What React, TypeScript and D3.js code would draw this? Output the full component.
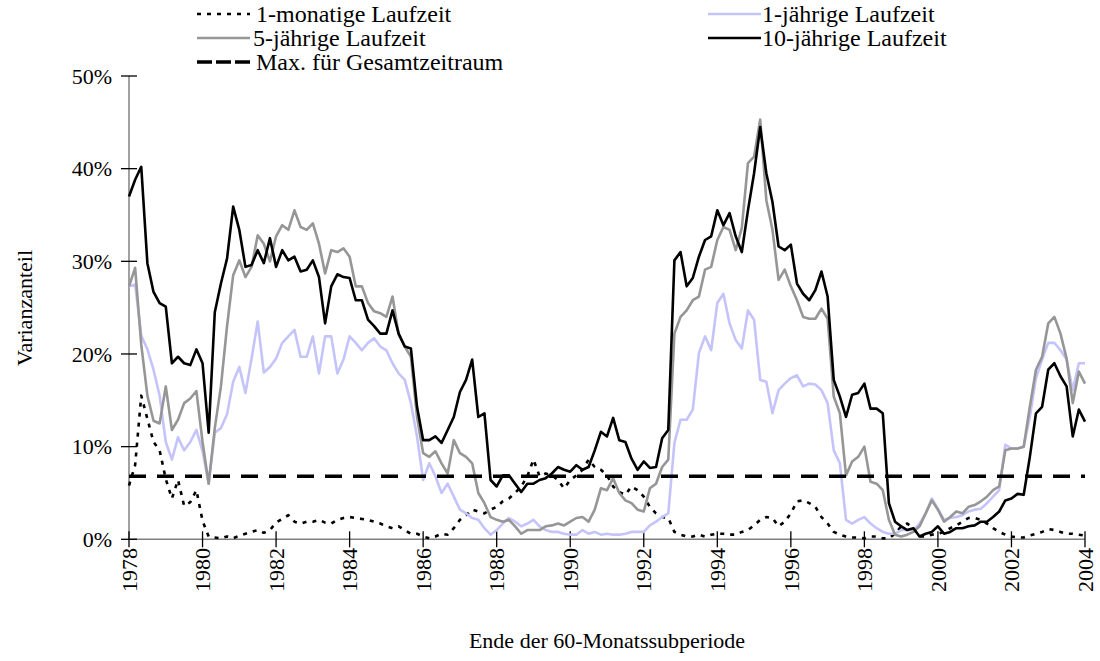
import { useEffect } from 'react'
import * as d3 from 'd3'

// Ende der 60-Monatssubperiode, Werte alle 2 Monate ab Jan 1978 (Anteil in %)
const startYear = 1978
const stepsPerYear = 6

const monat1 = [
  5.8, 8.0, 15.5, 13.0, 10.5, 9.6, 6.5, 4.4, 6.4, 3.6, 4.0, 5.3, 2.0, 0.3, 0.2, 0.1, 0.3, 0.1, 0.4, 0.6, 0.8, 1.0, 0.7, 1.0, 1.8, 2.2,
  2.6, 1.9, 1.7, 1.9, 1.9, 2.1, 1.8, 1.7, 2.1, 2.3, 2.4, 2.3, 2.2, 2.1, 1.9, 1.7, 1.4, 1.2, 1.4, 1.0, 0.6, 0.6, 0.3, 0.1, 0.3,
  0.6, 0.5, 1.2, 2.1, 2.6, 3.2, 3.0, 2.8, 3.2, 3.5, 4.1, 4.4, 5.0, 5.7, 6.8, 8.6, 6.8, 7.1, 6.9, 6.4, 5.5, 6.4, 6.9,
  7.5, 8.6, 7.8, 7.5, 6.9, 5.7, 5.1, 4.8, 5.7, 5.3, 4.6, 3.5, 2.8, 2.4, 2.3, 0.8, 0.5, 0.3, 0.3, 0.5, 0.3, 0.5, 0.6, 0.6, 0.5,
  0.5, 0.8, 1.0, 1.5, 2.1, 2.4, 2.3, 1.4, 1.9, 2.8, 4.1, 4.2, 3.9, 3.5, 2.4, 1.7, 0.8, 0.5, 0.3, 0.2, 0.2, 0.1, 0.3, 0.3,
  0.1, 0.1, 0.6, 1.4, 1.7, 1.2, 0.3, 0.3, 0.5, 0.6, 0.8, 1.2, 1.5, 1.9, 2.3, 2.3, 2.1, 1.7, 1.2, 0.8, 0.5, 0.3, 0.2, 0.2,
  0.4, 0.6, 0.8, 1.1, 1.0, 0.8, 0.6, 0.6, 0.5, 0.4
]

const jahr1 = [
  27.3, 27.5, 22.0, 20.5, 18.3, 15.5, 10.5, 8.6, 11.0, 9.6, 10.5, 11.8, 9.5, 6.0, 11.5, 12.0, 13.5, 17.0, 18.6, 15.8, 19.5, 23.5, 18.0, 18.6, 19.5, 21.2,
  21.9, 22.6, 19.7, 19.7, 21.9, 17.9, 21.9, 21.9, 17.9, 19.4, 21.9, 21.2, 20.4, 21.2, 21.7, 20.8, 20.4, 19.0, 17.9, 17.2, 14.7, 11.1, 6.4, 8.2, 6.8,
  5.0, 6.0, 4.6, 3.2, 2.8, 2.3, 2.1, 1.2, 0.5, 1.0, 1.7, 2.3, 1.9, 1.4, 1.7, 2.1, 1.4, 1.0, 0.8, 0.8, 0.6, 0.5, 0.5,
  1.0, 0.6, 0.8, 0.5, 0.6, 0.5, 0.5, 0.6, 0.8, 0.8, 0.8, 1.5, 1.9, 2.4, 2.8, 10.4, 12.9, 12.9, 14.0, 20.1, 21.9, 20.4, 25.5, 26.5, 23.3,
  21.5, 20.6, 24.7, 23.7, 17.2, 17.0, 13.6, 16.1, 16.8, 17.4, 17.7, 16.5, 16.8, 16.7, 16.1, 14.7, 9.6, 8.2, 2.1, 1.7, 2.1, 2.4, 1.7, 1.2,
  0.8, 0.6, 0.6, 1.0, 1.0, 1.0, 1.7, 2.8, 4.4, 3.3, 2.1, 2.3, 2.4, 2.6, 3.0, 3.2, 3.3, 3.9, 4.6, 5.3, 10.2, 9.8, 9.8, 10.0,
  13.2, 17.4, 19.4, 21.2, 21.2, 20.4, 19.4, 16.1, 19.0, 19.0
]

const jahr5 = [
  27.3, 29.3, 21.0, 15.5, 12.8, 12.5, 16.5, 11.8, 12.9, 14.7, 15.2, 16.0, 10.5, 6.0, 12.0, 16.5, 23.0, 28.5, 30.1, 28.3, 29.4, 32.8, 31.9, 30.0, 32.7, 33.9,
  33.4, 35.5, 33.7, 33.4, 34.1, 31.9, 28.7, 31.2, 31.0, 31.4, 30.5, 27.3, 27.3, 25.5, 24.6, 24.4, 24.0, 26.2, 22.1, 20.8, 19.7, 13.2, 9.3, 8.9, 9.5,
  8.2, 7.1, 10.7, 9.3, 8.9, 8.2, 5.0, 3.9, 2.4, 2.1, 1.9, 2.1, 1.4, 0.6, 1.0, 1.0, 1.0, 1.4, 1.5, 1.7, 1.5, 1.9, 2.3,
  2.4, 1.9, 3.2, 5.5, 5.3, 6.6, 5.0, 4.2, 3.9, 3.2, 3.0, 5.5, 6.0, 7.8, 8.6, 22.2, 24.0, 24.7, 25.8, 26.2, 29.1, 29.4, 32.3, 33.7, 33.4,
  31.2, 33.6, 40.6, 41.3, 45.3, 36.6, 33.4, 28.0, 29.1, 27.3, 25.8, 24.0, 23.8, 23.8, 24.9, 23.8, 15.4, 13.6, 6.9, 8.4, 8.9, 10.0, 6.2, 6.0,
  5.3, 2.1, 0.5, 0.3, 0.5, 0.8, 1.4, 2.8, 4.2, 3.2, 1.9, 2.4, 3.0, 2.8, 3.5, 3.7, 4.1, 4.6, 5.3, 5.7, 9.6, 9.8, 9.8, 10.0,
  14.3, 18.3, 19.7, 23.3, 24.0, 22.2, 19.5, 14.7, 18.1, 16.8
]

const jahr10 = [
  37.0, 38.8, 40.2, 29.8, 26.7, 25.5, 25.1, 19.0, 19.7, 19.0, 18.8, 20.5, 19.0, 11.5, 24.5, 27.6, 30.3, 35.9, 33.4, 29.4, 29.6, 31.2, 29.8, 32.5, 29.4, 31.2,
  30.1, 30.5, 28.9, 29.1, 30.1, 28.3, 23.3, 27.3, 28.6, 28.3, 28.2, 25.8, 25.8, 23.7, 23.0, 22.2, 22.2, 24.7, 22.2, 20.8, 20.6, 14.3, 10.7, 10.7, 11.1,
  10.4, 11.8, 13.2, 15.9, 17.2, 19.4, 13.2, 13.6, 6.4, 5.7, 6.9, 6.9, 6.0, 5.1, 6.0, 6.0, 6.4, 6.6, 7.1, 7.8, 7.5, 7.3, 8.0,
  7.5, 7.8, 9.6, 11.6, 11.1, 13.1, 10.7, 10.5, 8.7, 7.5, 8.4, 7.7, 7.8, 10.9, 11.8, 30.1, 31.0, 27.3, 28.2, 30.5, 32.3, 32.7, 35.5, 33.9, 35.2,
  32.7, 31.0, 35.5, 39.5, 44.5, 39.5, 36.4, 31.6, 31.2, 31.8, 27.6, 26.5, 25.8, 26.9, 28.9, 26.2, 17.2, 15.4, 13.2, 15.6, 15.8, 16.8, 14.1, 14.1,
  13.6, 3.9, 1.9, 1.4, 1.0, 1.2, 0.3, 0.6, 0.8, 1.4, 0.6, 0.8, 1.2, 1.2, 1.4, 1.5, 1.9, 1.9, 2.4, 3.0, 4.2, 4.4, 4.9, 4.8,
  8.9, 13.6, 14.3, 18.3, 19.0, 17.6, 16.5, 11.1, 14.0, 12.7
]

const maxGesamt = 6.8

const yearTicks = [1978, 1980, 1982, 1984, 1986, 1988, 1990, 1992, 1994, 1996, 1998, 2000, 2002, 2004]
const pctTicks = [0, 10, 20, 30, 40, 50]

const seriesNames = ['1-monatige Laufzeit', '1-jährige Laufzeit', '5-jährige Laufzeit', '10-jährige Laufzeit', 'Max. für Gesamtzeitraum']

const FONT = '"Liberation Serif", "Times New Roman", serif'

function App() {
  useEffect(() => {
    document.body.style.margin = '0'
  }, [])

  const x = d3.scaleLinear().domain([1978, 2004]).range([129, 1085])
  const y = d3.scaleLinear().domain([0, 50]).range([539.3, 76])

  const line = d3
    .line<number>()
    .x((d, i) => x(startYear + i / stepsPerYear))
    .y(d => y(d))

  const styles = [
    { data: monat1, stroke: '#000', width: 2.6, dash: '4,6' },
    { data: jahr1, stroke: '#c4c4fb', width: 2.6, dash: null },
    { data: jahr5, stroke: '#969696', width: 2.6, dash: null },
    { data: jahr10, stroke: '#000', width: 2.6, dash: null }
  ]

  const legend = [
    { name: seriesNames[0], lx: 197, tx: 256, ly: 14, stroke: '#000', width: 2.6, dash: '4,6' },
    { name: seriesNames[1], lx: 708, tx: 762, ly: 14, stroke: '#c4c4fb', width: 2.6, dash: null },
    { name: seriesNames[2], lx: 197, tx: 253, ly: 38, stroke: '#969696', width: 2.6, dash: null },
    { name: seriesNames[3], lx: 708, tx: 762, ly: 38, stroke: '#000', width: 2.6, dash: null },
    { name: seriesNames[4], lx: 197, tx: 256, ly: 62, stroke: '#000', width: 3.5, dash: '15,4' }
  ]

  return (
    <svg width={1100} height={661} style={{ display: 'block' }} fontFamily={FONT}>
      <rect x={0} y={0} width={1100} height={661} fill="#fff" />

      {/* Achsen */}
      <line x1={x(1978)} x2={x(1978)} y1={y(50)} y2={y(0)} stroke="#808080" strokeWidth={1.5} />
      <line x1={x(1978)} x2={x(2004)} y1={y(0)} y2={y(0)} stroke="#808080" strokeWidth={1.5} />
      {pctTicks.map(t => (
        <g key={t}>
          <line x1={x(1978) - 8} x2={x(1978) + 8} y1={y(t)} y2={y(t)} stroke="#000" strokeWidth={1.3} />
          <text x={112} y={y(t)} dy="0.35em" textAnchor="end" fontSize={22}>{t + '%'}</text>
        </g>
      ))}
      {yearTicks.map(t => (
        <g key={t}>
          <line x1={x(t)} x2={x(t)} y1={y(0) - 8} y2={y(0) + 8} stroke="#000" strokeWidth={1.3} />
          <text
            transform={`translate(${x(t)},548) rotate(-90)`}
            dy="0.35em"
            textAnchor="end"
            fontSize={22}
          >{t}</text>
        </g>
      ))}

      <text transform="translate(24,308) rotate(-90)" textAnchor="middle" dy="0.35em" fontSize={22}>Varianzanteil</text>
      <text x={607} y={640} textAnchor="middle" dy="0.35em" fontSize={22}>Ende der 60-Monatssubperiode</text>

      {/* Reihen */}
      {styles.map((s, k) => (
        <path
          key={k}
          d={line(s.data) || ''}
          fill="none"
          stroke={s.stroke}
          strokeWidth={s.width}
          strokeDasharray={s.dash || undefined}
          strokeLinejoin="round"
        />
      ))}
      <line
        x1={x(1978)}
        x2={x(2004)}
        y1={y(maxGesamt)}
        y2={y(maxGesamt)}
        stroke="#000"
        strokeWidth={3.5}
        strokeDasharray="17,11"
      />

      {/* Legende */}
      {legend.map(l => (
        <g key={l.name}>
          <line
            x1={l.lx}
            x2={l.lx + 53}
            y1={l.ly}
            y2={l.ly}
            stroke={l.stroke}
            strokeWidth={l.width}
            strokeDasharray={l.dash || undefined}
          />
          <text x={l.tx} y={l.ly} dy="0.35em" fontSize={24}>{l.name}</text>
        </g>
      ))}
    </svg>
  )
}

export default App
